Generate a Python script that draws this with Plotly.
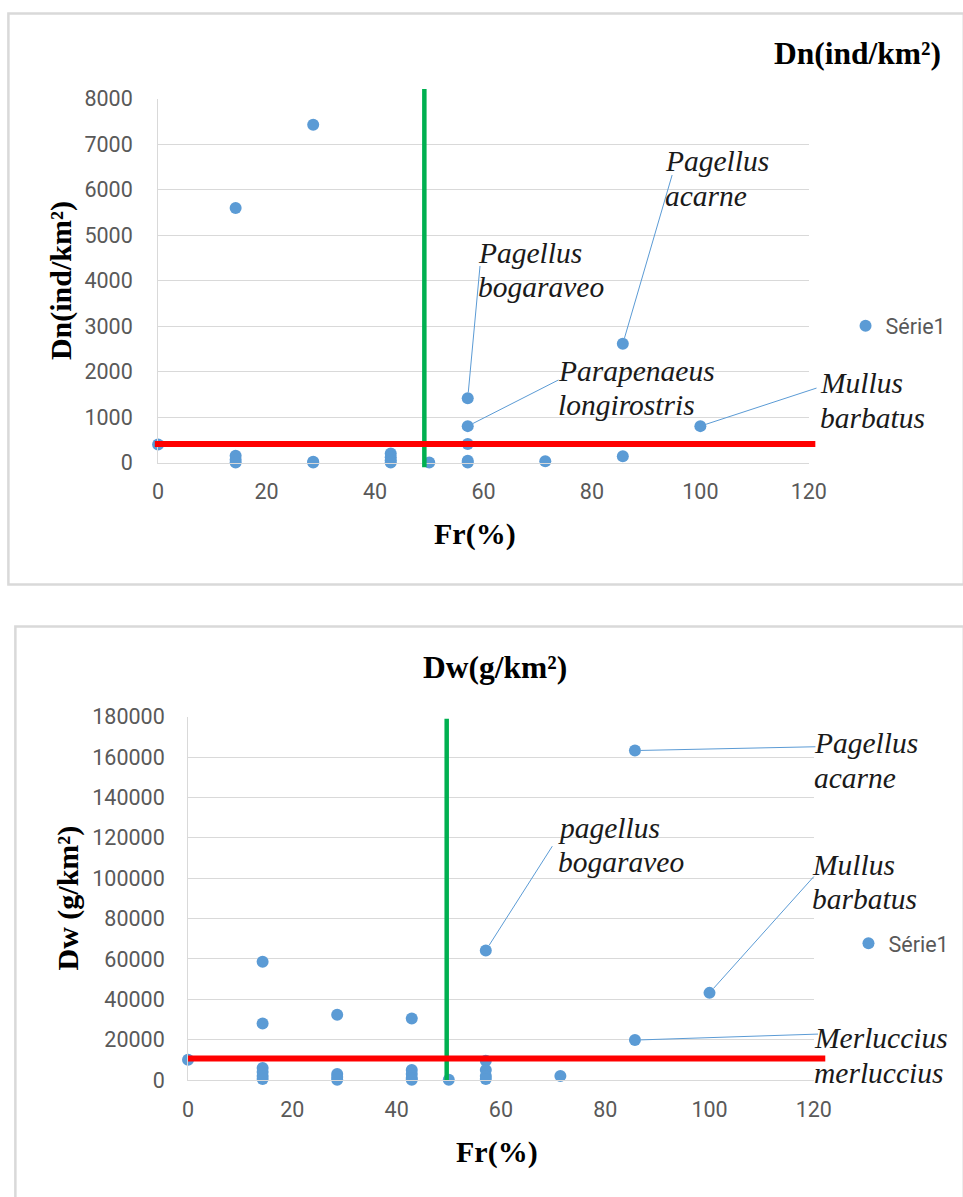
import plotly.graph_objects as go

W, H = 963, 1197
BLUE = "#5B9BD5"
GRID = "#D9D9D9"
TICK = "#595959"

# ---------------- data: top chart, Dn(ind/km²) ----------------
dn_fr = [0, 14.3, 14.3, 14.3, 14.3, 28.6, 28.6, 28.6, 42.9, 42.9, 42.9, 42.9,
         50, 57.1, 57.1, 57.1, 57.1, 57.1, 71.4, 85.7, 85.7, 100]
dn_val = [400, 5600, 150, 60, 0, 7430, 20, 0, 200, 120, 50, 0,
          0, 1414, 802, 408, 40, 0, 30, 2615, 138, 802]
dn_mean = 410          # red horizontal line
dn_fr_cut = 49.1       # green vertical line

# ---------------- data: bottom chart, Dw(g/km²) ----------------
dw_fr = [0, 14.3, 14.3, 14.3, 14.3, 14.3, 14.3, 28.6, 28.6, 28.6, 28.6,
         42.9, 42.9, 42.9, 42.9, 42.9, 50, 57.1, 57.1, 57.1, 57.1, 57.1,
         71.4, 85.7, 85.7, 100]
dw_val = [10100, 58600, 28000, 6000, 4000, 2000, 500, 32400, 3000, 1500, 200,
          30500, 5000, 3000, 1000, 200, 200, 64200, 9500, 5000, 2000, 500,
          2000, 163300, 19800, 43200]
dw_mean = 10700
dw_fr_cut = 49.6

x_ticks = [0, 20, 40, 60, 80, 100, 120]
dn_ticks = [0, 1000, 2000, 3000, 4000, 5000, 6000, 7000, 8000]
dw_ticks = [0, 20000, 40000, 60000, 80000, 100000, 120000, 140000, 160000, 180000]

# labelled species: (line 1, line 2, point x, point y, leader end x, leader end y)
dn_labels = [
    ("Pagellus", "acarne", 85.7, 2615, 94.9, 6370),
    ("Pagellus", "bogaraveo", 57.1, 1414, 59.4, 4370),
    ("Parapenaeus", "longirostris", 57.1, 802, 74.1, 1834),
    ("Mullus", "barbatus", 100, 802, 121.7, 1650),
]
dw_labels = [
    ("Pagellus", "acarne", 85.7, 163300, 120.6, 165200),
    ("pagellus", "bogaraveo", 57.1, 64200, 70.1, 116900),
    ("Mullus", "barbatus", 100, 43200, 120.3, 101700),
    ("Merluccius", "merluccius", 85.7, 19800, 121.1, 22800),
]
# label text placement in picture pixels: (left, line-1 centre, line-2 centre)
dn_label_pos = [(663, 161, 196), (476, 253, 287), (556, 371, 405), (818, 383, 418)]
dw_label_pos = [(812, 744, 779), (556, 829, 863), (810, 866, 900), (812, 1039, 1074)]

# picture-pixel -> paper conversion (compensates the capture scaling seen in the render)
OX, OY, SX, SY = 4.6, 12.0, 0.977, 0.980


def fx(p):
    return (p - OX) / SX / W


def fy(p):
    return 1 - (p - OY) / SY / H


fig = go.Figure()
fig.add_trace(go.Scatter(x=dn_fr, y=dn_val, mode="markers", name="Série1",
                         marker=dict(color=BLUE, size=12), cliponaxis=False,
                         xaxis="x", yaxis="y", legend="legend"))
fig.add_trace(go.Scatter(x=dw_fr, y=dw_val, mode="markers", name="Série1",
                         marker=dict(color=BLUE, size=12), cliponaxis=False,
                         xaxis="x2", yaxis="y2", legend="legend2"))

common = dict(showline=True, linecolor=GRID, linewidth=1, zeroline=False,
              ticks="", tickfont=dict(family="Roboto", size=21.5, color=TICK),
              tickformat="d")
fig.update_layout(
    width=W, height=H, margin=dict(l=0, r=0, t=0, b=0), autosize=False,
    paper_bgcolor="white", plot_bgcolor="white",
    xaxis=dict(domain=[fx(157), fx(809)], range=[0, 120], tickvals=x_ticks,
               showgrid=False, anchor="y", ticklabelstandoff=10, **common),
    yaxis=dict(domain=[fy(463), fy(99)], range=[0, 8000], tickvals=dn_ticks,
               showgrid=True, gridcolor=GRID, anchor="x", ticklabelstandoff=20, **common),
    xaxis2=dict(domain=[fx(187), fx(814)], range=[0, 120], tickvals=x_ticks,
                showgrid=False, anchor="y2", ticklabelstandoff=10, **common),
    yaxis2=dict(domain=[fy(1081), fy(717.5)], range=[0, 180000], tickvals=dw_ticks,
                showgrid=True, gridcolor=GRID, anchor="x2", ticklabelstandoff=18, **common),
    legend=dict(x=861 / W, y=fy(326), xanchor="left", yanchor="middle",
                bgcolor="rgba(0,0,0,0)", font=dict(family="Roboto", size=21.5, color=TICK)),
    legend2=dict(x=864 / W, y=fy(944), xanchor="left", yanchor="middle",
                 bgcolor="rgba(0,0,0,0)", font=dict(family="Roboto", size=21.5, color=TICK)),
    showlegend=True,
)

# chart borders
fig.add_shape(type="rect", xref="paper", yref="paper", x0=fx(7), x1=1.02,
              y0=fy(585), y1=1 - 1.5 / H, line=dict(color=GRID, width=2.5), layer="below")
fig.add_shape(type="rect", xref="paper", yref="paper", x0=fx(14), x1=1.02,
              y0=-0.02, y1=fy(627), line=dict(color=GRID, width=2.5), layer="below")

# threshold lines (green vertical = Fr cut, red horizontal = mean density)
fig.add_shape(type="line", xref="x", yref="y domain", x0=dn_fr_cut, x1=dn_fr_cut,
              y0=-100 / 8000, y1=8220 / 8000, line=dict(color="#00B050", width=4.5), layer="above")
fig.add_shape(type="line", xref="x domain", yref="y", x0=-0.6 / 120, x1=121.2 / 120,
              y0=dn_mean, y1=dn_mean, line=dict(color="#FF0000", width=6), layer="above")
fig.add_shape(type="line", xref="x2", yref="y2 domain", x0=dw_fr_cut, x1=dw_fr_cut,
              y0=0, y1=179100 / 180000, line=dict(color="#00B050", width=4.5), layer="above")
fig.add_shape(type="line", xref="x2 domain", yref="y2", x0=0, x1=122.2 / 120,
              y0=dw_mean, y1=dw_mean, line=dict(color="#FF0000", width=6), layer="above")

label_font = dict(family="Liberation Serif", size=29.5, color="#1a1a1a")


def add_labels(labels, positions, xr, yr):
    for (t1, t2, px, py, tx, ty), (lx, l1, l2) in zip(labels, positions):
        fig.add_annotation(x=px, y=py, xref=xr, yref=yr, ax=tx, ay=ty, axref=xr, ayref=yr,
                           text=" ", showarrow=True, arrowhead=0, arrowwidth=1,
                           arrowcolor=BLUE, standoff=6, startstandoff=0, font=dict(size=1))
        for t, ly in ((t1, l1), (t2, l2)):
            fig.add_annotation(x=fx(lx), y=fy(ly), xref="paper", yref="paper",
                               text="<i>" + t + "</i>", showarrow=False, xanchor="left",
                               yanchor="middle", align="left", font=label_font)


add_labels(dn_labels, dn_label_pos, "x", "y")
add_labels(dw_labels, dw_label_pos, "x2", "y2")

title_font = dict(family="Liberation Serif", size=31.5, color="black")
axis_font = dict(family="Liberation Serif", size=30, color="black")
C = dict(xref="paper", yref="paper", xanchor="center", yanchor="middle", showarrow=False)
# chart titles
fig.add_annotation(x=961 / W, y=fy(54), xref="paper", yref="paper", xanchor="right",
                   yanchor="middle", showarrow=False, text="<b>Dn(ind/km²)</b>", font=title_font)
fig.add_annotation(x=fx(495), y=fy(668), text="<b>Dw(g/km²)</b>", font=title_font, **C)
# axis titles
fig.add_annotation(x=fx(475), y=fy(534), text="<b>Fr(%)</b>", font=axis_font, **C)
fig.add_annotation(x=fx(497), y=fy(1153), text="<b>Fr(%)</b>", font=axis_font, **C)
fig.add_annotation(x=fx(59), y=fy(281), text="<b>Dn(ind/km²)</b>", textangle=-90,
                   font=axis_font, **C)
fig.add_annotation(x=fx(67), y=fy(899), text="<b>Dw (g/km²)</b>", textangle=-90,
                   font=axis_font, **C)

fig.write_html("out.html", config={"displayModeBar": False, "responsive": False},
               post_script="document.body.style.margin='0';")
